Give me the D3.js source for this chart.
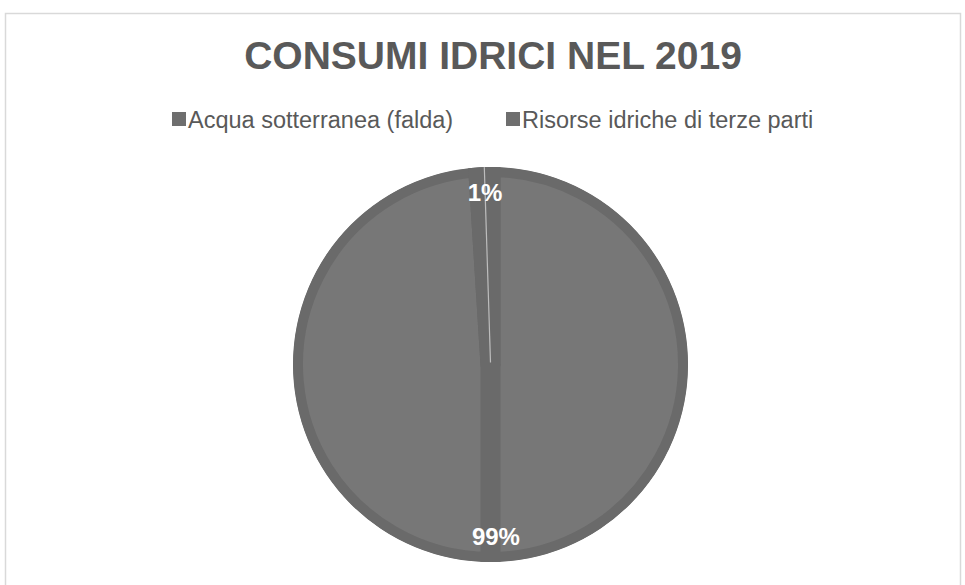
<!DOCTYPE html>
<html>
<head>
<meta charset="utf-8">
<script src="https://cdn.jsdelivr.net/npm/d3@7"></script>
<style>
  html, body { margin: 0; padding: 0; background: #ffffff; }
  svg { display: block; }
</style>
</head>
<body>
<svg id="chart" width="965" height="585"></svg>
<script>
const title = "CONSUMI IDRICI NEL 2019";
const categories = ["Acqua sotterranea (falda)", "Risorse idriche di terze parti"];
const values = [99, 1];
const labels = ["99%", "1%"];

const W = 965, H = 585;
const svg = d3.select("#chart");

svg.append("rect")
  .attr("x", 5.5).attr("y", 13.5)
  .attr("width", 955).attr("height", 620)
  .attr("fill", "#ffffff")
  .attr("stroke", "#d9d9d9").attr("stroke-width", 1.5);

svg.append("text")
  .attr("x", 493).attr("y", 69)
  .attr("text-anchor", "middle")
  .attr("font-family", "Liberation Sans, Arial, sans-serif")
  .attr("font-weight", "bold")
  .attr("font-size", 39)
  .attr("fill", "#595959")
  .text(title);

// legend
const legendItems = [
  { x: 172, label: categories[0] },
  { x: 506, label: categories[1] }
];
const lg = svg.append("g");
legendItems.forEach(it => {
  lg.append("rect").attr("x", it.x).attr("y", 112).attr("width", 14).attr("height", 14).attr("fill", "#6e6e6e");
  lg.append("text").attr("x", it.x + 16).attr("y", 128)
    .attr("font-family", "Liberation Sans, Arial, sans-serif")
    .attr("font-size", 23.5).attr("fill", "#595959").text(it.label);
});

// pie
const cx = 490.5, cy = 364.5, R = 197.5;
const fillColor = "#777777";
const edgeColor = "#6a6a6a";

const pie = d3.pie().sort(null).value(d => d)(values);
const arc = d3.arc().innerRadius(0).outerRadius(R);

const defs = svg.append("defs");
defs.append("clipPath").attr("id", "pieclip")
  .append("circle").attr("cx", 0).attr("cy", 0).attr("r", R);

const g = svg.append("g").attr("transform", `translate(${cx},${cy})`);
const gc = g.append("g").attr("clip-path", "url(#pieclip)");

gc.selectAll("path.slice").data(pie).enter().append("path")
  .attr("class", "slice")
  .attr("d", arc)
  .attr("fill", fillColor)
  .attr("stroke", edgeColor)
  .attr("stroke-width", 20)
  .attr("stroke-linejoin", "round");

// extension band opposite the starting boundary
const a0 = pie[0].startAngle + Math.PI;
gc.append("line")
  .attr("x1", 0).attr("y1", 0)
  .attr("x2", R * Math.sin(a0)).attr("y2", -R * Math.cos(a0))
  .attr("stroke", edgeColor).attr("stroke-width", 20);

// thin highlight along small slice's mid angle
const small = pie[1];
const mid = (small.startAngle + small.endAngle) / 2;
gc.append("line")
  .attr("x1", 0).attr("y1", -2)
  .attr("x2", R * Math.sin(mid)).attr("y2", -R * Math.cos(mid))
  .attr("stroke", "#bdbdbd").attr("stroke-width", 1.2);

// labels
const labelR = 172;
g.selectAll("text.lbl").data(pie).enter().append("text")
  .attr("class", "lbl")
  .attr("x", d => { const m = (d.startAngle + d.endAngle) / 2; return labelR * Math.sin(m); })
  .attr("y", d => { const m = (d.startAngle + d.endAngle) / 2; return -labelR * Math.cos(m); })
  .attr("dy", "0.36em")
  .attr("text-anchor", "middle")
  .attr("font-family", "Liberation Sans, Arial, sans-serif")
  .attr("font-weight", "bold")
  .attr("font-size", 24)
  .attr("fill", "#ffffff")
  .text((d, i) => labels[i]);
</script>
</body>
</html>
